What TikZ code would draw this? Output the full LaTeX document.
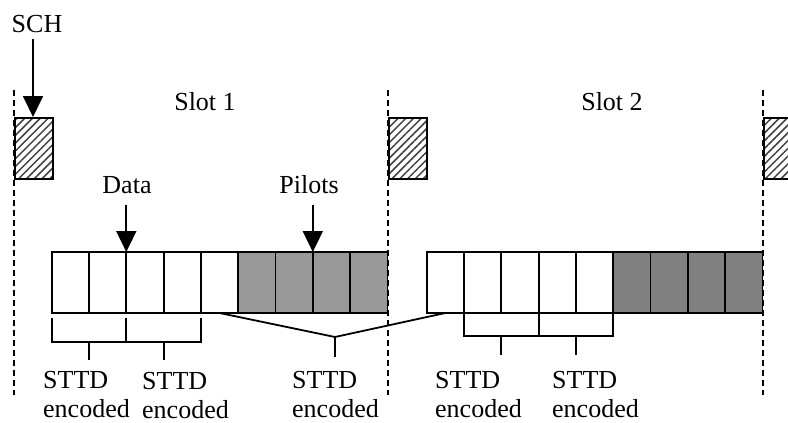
\documentclass[tikz,border=0pt]{standalone}
\usepackage{fontspec}
\setmainfont{Liberation Serif}
\usetikzlibrary{arrows.meta,patterns.meta,calc}
\begin{document}
\begin{tikzpicture}[x=1pt,y=-1pt,
  lbl/.style={inner sep=0pt,font=\fontsize{26}{30}\selectfont},
  cellw/.style={fill=white,minimum width=37.3pt,minimum height=61pt,inner sep=0pt,outer sep=0pt,anchor=north west},
  cella/.style={cellw,fill=black!40},
  cellb/.style={cellw,fill=black!50},
  outline/.style={line width=1.8pt},
  schbox/.style={draw,line width=1.8pt,pattern={Lines[angle=45,distance=5.5pt,line width=1.5pt]},pattern color=black!75},
  slotline/.style={line width=1.3pt,dash pattern=on 6pt off 4pt},
  brk/.style={line width=1.8pt},
  pointer/.style={line width=1.8pt,-{Triangle[length=21pt,width=20pt]}}
]
\useasboundingbox (0,0) rectangle (788,423);
\begin{scope}
\clip (0,0) rectangle (788,423);
% slot boundaries
\draw[slotline] (14,90) -- (14,395);
\draw[slotline] (388,90) -- (388,395);
\draw[slotline] (763,90) -- (763,395);
% SCH boxes
\node[schbox,minimum width=38pt,minimum height=61pt,inner sep=0pt,anchor=north west] (s1) at (14,117) {};
\node[schbox,minimum width=38pt,minimum height=61pt,inner sep=0pt,anchor=north west] (s2) at (388,117) {};
\node[schbox,minimum width=38pt,minimum height=61pt,inner sep=0pt,anchor=north west] (s3) at (763,117) {};
\end{scope}
% labels
\node[lbl,anchor=base] (sch) at (37,32) {SCH};
\node[lbl,anchor=base] (slot1) at (205,110) {Slot 1};
\node[lbl,anchor=base] (slot2) at (612,110) {Slot 2};
\node[lbl,anchor=base] (data) at (127,193) {Data};
\node[lbl,anchor=base] (pilots) at (309,193) {Pilots};
% cells slot 1
\foreach \i in {1,...,5} \node[cellw] (c\i) at ({51.7+37.3*(\i-1)},252) {};
\foreach \i in {6,...,9} \node[cella] (c\i) at ({51.7+37.3*(\i-1)},252) {};
% cells slot 2
\foreach \i in {1,...,5} \node[cellw] (d\i) at ({426.7+37.3*(\i-1)},252) {};
\foreach \i in {6,...,9} \node[cellb] (d\i) at ({426.7+37.3*(\i-1)},252) {};
% cell outlines
\foreach \i in {1,...,9} {
  \draw[outline] (c\i.north west) rectangle (c\i.south east);
  \draw[outline] (d\i.north west) rectangle (d\i.south east);
}
% arrows
\draw[pointer] (c3.north west |- 0,205) -- (c3.north west);
\draw[pointer] (c8.north west |- 0,205) -- (c8.north west);
\draw[pointer] (33,39) -- (s1.north west -| 33,0);
% slot 1 brackets
\draw[brk] ($(c1.south west)+(0,5)$) -- ++(0,24) -| ($(c5.south west)+(0,5)$);
\draw[brk] ($(c3.south west)+(0,5)$) -- ++(0,24);
\coordinate (b1) at (c2.south west |- 0,342);
\coordinate (b2) at (c4.south west |- 0,342);
\draw[brk] (b1) -- ++(0,18);
\draw[brk] (b2) -- ++(0,18);
% spanning bracket
\coordinate (apex) at (335,337);
\draw[brk] (c5.south) -- (apex) -- (d1.south);
\draw[brk] (apex) -- ++(0,20);
% slot 2 brackets
\draw[brk] (d2.south west) -- ++(0,23) -| (d6.south west);
\draw[brk] (d4.south west) -- ++(0,23);
\coordinate (b3) at (d3.south west |- 0,336);
\coordinate (b4) at (d5.south west |- 0,336);
\draw[brk] (b3) -- ++(0,19);
\draw[brk] (b4) -- ++(0,19);
% STTD labels
\node[lbl,anchor=base west] (t1) at (43,388) {STTD};
\node[lbl,anchor=base west] (e1) at (43,417) {encoded};
\node[lbl,anchor=base west] (t2) at (142,389) {STTD};
\node[lbl,anchor=base west] (e2) at (142,418) {encoded};
\node[lbl,anchor=base west] (t3) at (292,388) {STTD};
\node[lbl,anchor=base west] (e3) at (292,417) {encoded};
\node[lbl,anchor=base west] (t4) at (435,388) {STTD};
\node[lbl,anchor=base west] (e4) at (435,417) {encoded};
\node[lbl,anchor=base west] (t5) at (552,388) {STTD};
\node[lbl,anchor=base west] (e5) at (552,417) {encoded};
\end{tikzpicture}
\end{document}
